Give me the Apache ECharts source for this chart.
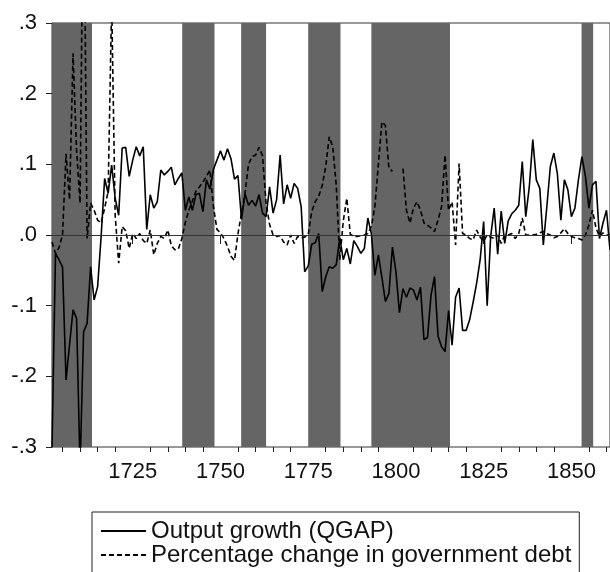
<!DOCTYPE html>
<html>
<head>
<meta charset="utf-8">
<script src="https://cdn.jsdelivr.net/npm/echarts@6/dist/echarts.min.js"></script>
<style>
  html, body { margin: 0; padding: 0; background: #fff; }
  #chart { width: 610px; height: 572px; }
</style>
</head>
<body>
<div id="chart"></div>
<script>
// annual values, first year 1702
const startYear = 1702;

const qgap = [
  -0.300, -0.026, -0.035, -0.045, -0.205, -0.155, -0.106, -0.118,   // 1702-1709
  -0.330, -0.137, -0.125, -0.045, -0.092, -0.073, -0.002, 0.080, 0.059, 0.099,   // 1710-1719
  0.052, 0.028, 0.123, 0.124, 0.083, 0.106, 0.125, 0.112, 0.125, 0.008,   // 1720-1729
  0.057, 0.038, 0.047, 0.092, 0.085, 0.090, 0.096, 0.071, 0.080, 0.088,   // 1730-1739
  0.035, 0.054, 0.035, 0.057, 0.059, 0.033, 0.078, 0.065, 0.093, 0.106,   // 1740-1749
  0.119, 0.106, 0.122, 0.108, 0.079, 0.084, 0.022, 0.058, 0.042, 0.049,   // 1750-1759
  0.041, 0.057, 0.031, 0.026, 0.068, 0.031, 0.050, 0.113, 0.044, 0.071,   // 1760-1769
  0.052, 0.073, 0.066, 0.040, -0.052, -0.044, -0.013, -0.011, 0.002, -0.080,   // 1770-1779
  -0.059, -0.045, -0.047, -0.042, -0.004, -0.035, -0.019, -0.041, -0.008, -0.016,   // 1780-1789
  -0.026, -0.019, 0.024, 0.002, -0.057, -0.028, -0.060, -0.094, -0.083, -0.017,   // 1790-1799
  -0.052, -0.110, -0.076, -0.088, -0.075, -0.078, -0.092, -0.074, -0.148, -0.145,   // 1800-1809
  -0.085, -0.059, -0.143, -0.158, -0.165, -0.107, -0.156, -0.088, -0.075, -0.135,   // 1810-1819
  -0.135, -0.120, -0.095, -0.068, -0.035, 0.019, -0.100, -0.002, 0.038, -0.027,   // 1820-1829
  0.034, -0.012, 0.020, 0.030, 0.035, 0.042, 0.104, 0.026, 0.068, 0.135,   // 1830-1839
  0.078, 0.066, -0.014, 0.040, 0.097, 0.116, 0.087, 0.021, 0.078, 0.064,   // 1840-1849
  0.026, 0.038, 0.078, 0.111, 0.083, 0.038, 0.071, 0.076, -0.005, 0.017,   // 1850-1859
  0.035, -0.021   // 1860-1861
];

const debtChange = [
  -0.010, -0.026, -0.018, 0.000, 0.115, 0.050, 0.257, 0.120,   // 1702-1709
  0.045, 0.550, -0.005, 0.045, 0.035, 0.021, 0.017, 0.038, 0.062, 0.330,   // 1710-1719
  0.028, -0.040, 0.012, 0.006, -0.019, 0.002, -0.005, 0.002, -0.008, -0.012,   // 1720-1729
  0.007, -0.028, -0.012, -0.002, -0.005, 0.007, -0.015, -0.021, -0.020, -0.005,   // 1730-1739
  0.018, 0.035, 0.048, 0.062, 0.068, 0.075, 0.083, 0.092, 0.040, 0.008,   // 1740-1749
  0.003, -0.005, -0.016, -0.030, -0.036, 0.002, 0.031, 0.059, 0.100, 0.111,   // 1750-1759
  0.113, 0.124, 0.112, 0.045, 0.015, 0.000, -0.002, -0.001, -0.010, -0.014,   // 1760-1769
  0.000, -0.012, -0.002, -0.004, -0.003, 0.000, 0.033, 0.047, 0.055, 0.070,   // 1770-1779
  0.097, 0.139, 0.125, 0.070, -0.035, 0.020, 0.052, 0.001, -0.002, -0.002,   // 1780-1789
  -0.001, 0.000, 0.002, 0.012, 0.040, 0.100, 0.160, 0.155, 0.095, 0.090,   // 1790-1799
  null, null, 0.094, 0.035, 0.017, 0.038, 0.047, 0.035, 0.017, 0.014,   // 1800-1809
  0.010, 0.005, 0.021, 0.040, 0.113, 0.035, 0.047, -0.014, 0.101, 0.002,   // 1810-1819
  0.000, -0.005, -0.007, 0.007, -0.003, -0.009, 0.000, -0.003, -0.005, 0.000,   // 1820-1829
  -0.012, 0.000, 0.000, 0.002, -0.005, 0.002, 0.024, 0.000, 0.000, 0.000,   // 1830-1839
  0.001, 0.003, 0.005, 0.002, 0.000, -0.004, -0.002, 0.003, 0.009, 0.002,   // 1840-1849
  -0.002, -0.004, -0.005, -0.007, 0.000, 0.014, 0.035, 0.010, -0.002, 0.003,   // 1850-1859
  0.000, 0.000   // 1860-1861
];

// shaded war years [from, to]
const warPeriods = [
  [1702, 1713.4],
  [1739.1, 1748.3],
  [1755.9, 1763.0],
  [1775.0, 1784.2],
  [1793.0, 1815.4],
  [1852.9, 1856.2]
];

const xTickLabels = [1725, 1750, 1775, 1800, 1825, 1850];
const xMinorTicks = [1705, 1710, 1715, 1720, 1730, 1735, 1740, 1745, 1755, 1760, 1765, 1770,
  1780, 1785, 1790, 1795, 1805, 1810, 1815, 1820, 1830, 1835, 1840, 1845, 1855, 1860];
const yTickLabels = ['-.3', '-.2', '-.1', '.0', '.1', '.2', '.3'];

const font = '"Liberation Sans", Arial, sans-serif';
const toPairs = arr => arr.map((v, i) => [startYear + i, v]);

const chart = echarts.init(document.getElementById('chart'));

const baseX = {
  type: 'value',
  min: 1702,
  max: 1861,
  splitLine: { show: false },
  axisLine: { show: true, lineStyle: { color: '#222', width: 1 } },
};

const option = {
  animation: false,
  backgroundColor: '#fff',
  grid: {
    left: 52,
    top: 23,
    width: 558,
    height: 424,
    show: true,
    borderColor: '#333',
    borderWidth: 1,
  },
  legend: {
    orient: 'vertical',
    left: 92,
    top: 512,
    height: 120,   // let the box run past the bottom edge instead of wrapping
    itemGap: 0,
    itemWidth: 45,
    itemHeight: 12,
    padding: [7, 8, 12, 8],
    borderColor: '#222',
    borderWidth: 1,
    itemStyle: { opacity: 0 },
    textStyle: {
      fontFamily: font,
      fontSize: 24,
      lineHeight: 21,
      color: '#111',
    },
    data: ['Output growth (QGAP)', 'Percentage change in government debt'],
  },
  xAxis: [
    {
      ...baseX,
      axisTick: { show: true, length: 9, customValues: xTickLabels, lineStyle: { color: '#222' } },
      axisLabel: {
        customValues: xTickLabels,
        margin: 14,
        fontFamily: font,
        fontSize: 22,
        color: '#111',
        formatter: v => String(v),
      },
    },
    {
      ...baseX,
      position: 'bottom',
      axisLine: { show: false },
      axisTick: { show: true, length: 5, customValues: xMinorTicks, lineStyle: { color: '#222' } },
      axisLabel: { show: false },
    },
  ],
  yAxis: {
    type: 'value',
    min: -0.3,
    max: 0.3,
    interval: 0.1,
    splitLine: { show: false },
    axisLine: { show: true, lineStyle: { color: '#222', width: 1 } },
    axisTick: { show: true, length: 6, lineStyle: { color: '#222' } },
    axisLabel: {
      margin: 15,
      fontFamily: font,
      fontSize: 22,
      color: '#111',
      formatter: v => yTickLabels[Math.round(v * 10) + 3],
    },
  },
  series: [
    {
      name: 'Output growth (QGAP)',
      type: 'line',
      xAxisIndex: 0,
      data: toPairs(qgap),
      showSymbol: false,
      symbol: 'none',
      lineStyle: { color: '#000', width: 1.6 },
      itemStyle: { color: '#000' },
      markArea: {
        silent: true,
        itemStyle: { color: '#656565' },
        data: warPeriods.map(([a, b]) => [{ xAxis: a }, { xAxis: b }]),
      },
    },
    {
      name: 'Percentage change in government debt',
      type: 'line',
      xAxisIndex: 0,
      data: toPairs(debtChange),
      connectNulls: false,
      showSymbol: false,
      symbol: 'none',
      lineStyle: { color: '#000', width: 1.6, type: [5, 3] },
      itemStyle: { color: '#000' },
      markLine: {
        silent: true,
        symbol: 'none',
        label: { show: false },
        lineStyle: { color: '#333', width: 1, type: 'solid' },
        data: [{ yAxis: 0 }],
      },
    },
  ],
};

chart.setOption(option);
</script>
</body>
</html>
